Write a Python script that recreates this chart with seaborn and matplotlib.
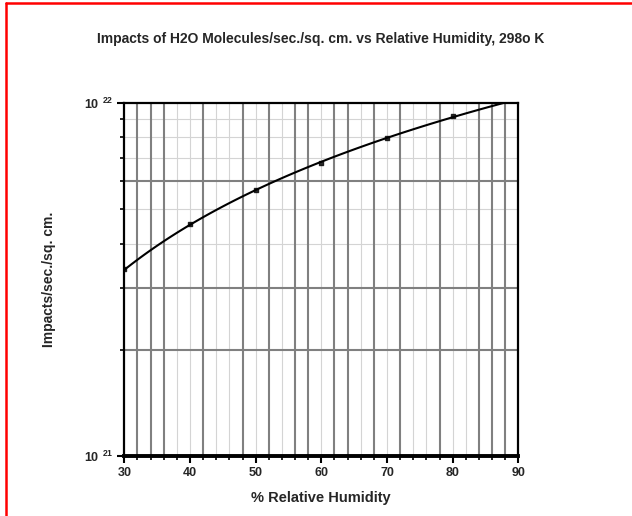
import numpy as np
import pandas as pd
import seaborn as sns
import matplotlib.pyplot as plt
from matplotlib.lines import Line2D
from matplotlib.ticker import FixedLocator, NullFormatter

# 相対湿度 (%) と 衝突数 (/sec/sq.cm)
humidity = [30, 40, 50, 60, 70, 80]
impacts = [3.39e21, 4.53e21, 5.66e21, 6.78e21, 7.95e21, 9.18e21]

df = pd.DataFrame({"humidity": humidity, "impacts": impacts})

sns.set_style("white")
plt.rcParams["font.family"] = ["Liberation Sans", "DejaVu Sans"]
plt.rcParams["mathtext.fontset"] = "custom"
plt.rcParams["mathtext.rm"] = "Liberation Sans:bold"
plt.rcParams["mathtext.bf"] = "Liberation Sans:bold"

fig = plt.figure(figsize=(6.32, 5.16), dpi=100)
ax = fig.add_axes([124.3 / 632, 60.3 / 516, 394 / 632, 352.4 / 516])
ax.set_yscale("log")
ax.set_xlim(30, 90)
ax.set_ylim(1e21, 1e22)

# グリッド (薄い線と濃い線)
light_x = [38, 40, 44, 46, 50, 54, 60, 66, 70, 74, 76, 80, 82]
dark_x = [32, 34, 36, 42, 48, 52, 56, 58, 62, 64, 68, 72, 78, 84, 86, 88]
light_y = [4e21, 5e21, 7e21, 8e21, 9e21]
dark_y = [2e21, 3e21, 6e21]
for v in light_x:
    ax.axvline(v, color="#d4d4d4", lw=0.8, zorder=0)
for v in light_y:
    ax.axhline(v, color="#d4d4d4", lw=0.8, zorder=0)
for v in dark_x:
    ax.axvline(v, color="#808080", lw=1.5, zorder=0.5)
for v in dark_y:
    ax.axhline(v, color="#808080", lw=1.5, zorder=0.5)

sns.regplot(data=df, x="humidity", y="impacts", ax=ax, ci=None, truncate=False,
            marker="s", color="black",
            scatter_kws={"s": 12, "zorder": 4},
            line_kws={"lw": 1.5, "zorder": 3})

# 目盛り
ax.xaxis.set_major_locator(FixedLocator([30, 40, 50, 60, 70, 80, 90]))
ax.xaxis.set_minor_locator(FixedLocator(np.arange(30, 91, 2)))
ax.yaxis.set_major_locator(FixedLocator([1e21, 1e22]))
ax.yaxis.set_minor_locator(FixedLocator([2e21, 3e21, 4e21, 5e21, 6e21, 7e21, 8e21, 9e21]))
ax.yaxis.set_minor_formatter(NullFormatter())
ax.set_yticklabels([r"$10\ ^{21}$", r"$10\ ^{22}$"])
ax.set_xticklabels([str(v) for v in [30, 40, 50, 60, 70, 80, 90]], fontweight="bold")
ax.tick_params(axis="both", which="major", direction="out", length=5, width=1.5,
               labelsize=9, color="black", pad=3)
ax.tick_params(axis="both", which="minor", direction="out", length=3, width=1.2,
               color="black")
ax.tick_params(axis="x", which="both", bottom=True)
ax.tick_params(axis="y", which="both", left=True)

for side in ["left", "top", "right"]:
    ax.spines[side].set_linewidth(1.6)
    ax.spines[side].set_color("black")
ax.spines["bottom"].set_linewidth(2.8)
ax.spines["bottom"].set_color("black")

ax.set_xlabel("% Relative Humidity", fontsize=10.5, fontweight="bold", labelpad=9)
ax.set_ylabel("Impacts/sec./sq. cm.", fontsize=10, fontweight="bold", labelpad=20)
fig.text(0.508, 0.925, "Impacts of H2O Molecules/sec./sq. cm. vs Relative Humidity, 298o K",
         ha="center", va="center", fontsize=10, fontweight="bold")

# 赤い枠
fig.add_artist(Line2D([5.5 / 632, 5.5 / 632], [0, 1 - 2.5 / 516], color="red", lw=1.8,
                      transform=fig.transFigure))
fig.add_artist(Line2D([5.5 / 632, 1], [1 - 2.5 / 516, 1 - 2.5 / 516], color="red", lw=1.8,
                      transform=fig.transFigure))

fig.savefig("out.png", dpi=100)
